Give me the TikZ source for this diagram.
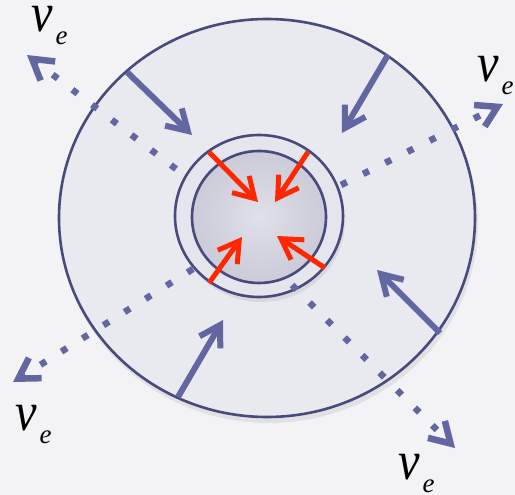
\documentclass[tikz,border=0pt]{standalone}
\usepackage{fontspec}
\setmainfont{Liberation Serif}
\usetikzlibrary{arrows.meta}
\definecolor{bgc}{HTML}{F3F3F5}
\definecolor{discc}{HTML}{E9E9F0}
\definecolor{ringc}{HTML}{474A7D}
\definecolor{flowc}{HTML}{6367A1}
\definecolor{redc}{HTML}{FF2600}
\definecolor{coreIn}{HTML}{E0E0E9}
\definecolor{coreOut}{HTML}{CBCBD9}
\newcommand\nuE{\scalebox{0.88}[1]{\fontsize{55}{55}\selectfont\itshape ν}\kern3pt\raisebox{-13pt}{\fontsize{27}{27}\selectfont\itshape e}}
\tikzset{
  ringline/.style={draw=ringc, line width=2.6pt},
  flowarrow/.style={draw=flowc, line width=6pt, -{Straight Barb[length=20pt,width=24pt]}},
  redarrow/.style={draw=redc, line width=5pt, -{Straight Barb[length=20pt,width=24pt]}},
  nuflow/.style={draw=flowc, line width=6.5pt, dash pattern=on 6.5pt off 18.3pt, -{Straight Barb[length=20pt,width=24pt]}},
  nulabel/.style={anchor=base west, inner sep=0pt, text=black},
}
\begin{document}
\begin{tikzpicture}[x=1pt,y=-1pt]
\fill[bgc] (0,0) rectangle (515,495);
\useasboundingbox (0,0) rectangle (515,495);

% outer disc
\fill[black, opacity=0.07] (269,223) ellipse [x radius=209pt, y radius=200pt];
\filldraw[ringline, fill=discc] (267,218) ellipse [x radius=208pt, y radius=199pt];

% core
\fill[black, opacity=0.07] (261,221) ellipse [x radius=84pt, y radius=81pt];
\filldraw[ringline, fill=discc!88!coreOut] (259,216) ellipse [x radius=84pt, y radius=81pt];
\shade[inner color=coreIn, outer color=coreOut] (259,217) ellipse [x radius=67pt, y radius=66pt];
\draw[ringline] (259,217) ellipse [x radius=67pt, y radius=66pt];

% coordinates
\coordinate (ulS) at (127,72);  \coordinate (ulE) at (192,135);
\coordinate (urS) at (388,55);  \coordinate (urE) at (342,133);
\coordinate (llS) at (178,397); \coordinate (llE) at (223,320);
\coordinate (lrS) at (440,333); \coordinate (lrE) at (377,270);

\coordinate (rulS) at (209,152); \coordinate (rulE) at (258,202);
\coordinate (rurS) at (308,152); \coordinate (rurE) at (275,202);
\coordinate (rllS) at (209,283); \coordinate (rllE) at (242,237);
\coordinate (rlrS) at (325,268); \coordinate (rlrE) at (277,236);

\coordinate (dulS) at (176,169); \coordinate (dulE) at (27,55);
\coordinate (durS) at (341,185); \coordinate (durE) at (503,104);
\coordinate (dllS) at (193,269); \coordinate (dllE) at (13,382);
\coordinate (dlrS) at (292,285); \coordinate (dlrE) at (455,448);

% neutrino flows
\draw[nuflow] (dulS) -- (dulE);
\draw[nuflow] (durS) -- (durE);
\draw[nuflow] (dllS) -- (dllE);
\draw[nuflow] (dlrS) -- (dlrE);

% infall arrows
\draw[flowarrow] (ulS) -- (ulE);
\draw[flowarrow] (urS) -- (urE);
\draw[flowarrow] (llS) -- (llE);
\draw[flowarrow] (lrS) -- (lrE);

% collapse arrows
\draw[redarrow] (rulS) -- (rulE);
\draw[redarrow] (rurS) -- (rurE);
\draw[redarrow] (rllS) -- (rllE);
\draw[redarrow] (rlrS) -- (rlrE);

% labels
\node[nulabel] (nuUL) at (31,32) {\nuE};
\node[nulabel] (nuUR) at (477,82) {\nuE};
\node[nulabel] (nuLL) at (15,430) {\nuE};
\node[nulabel] (nuLR) at (398,479) {\nuE};
\end{tikzpicture}
\end{document}
